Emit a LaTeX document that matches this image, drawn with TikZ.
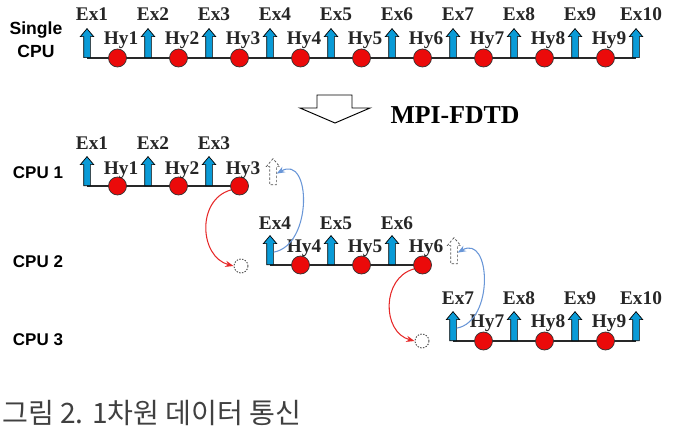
\documentclass[tikz,border=0pt]{standalone}
\usepackage{fontspec}
\setmainfont{Liberation Serif}
\setsansfont{Liberation Sans}
\newfontfamily\krfont{Noto Sans CJK KR}
\usepackage{tikz}
\usetikzlibrary{shapes.arrows, arrows.meta, positioning}
\definecolor{exblue}{RGB}{10,155,215}
\definecolor{hyred}{RGB}{235,10,10}
\definecolor{linkred}{RGB}{230,40,40}
\definecolor{linkblue}{RGB}{105,150,215}
\definecolor{mydark}{RGB}{40,40,40}
\tikzset{
  exarr/.style={single arrow, draw=black, fill=exblue, rotate=90,
    minimum height=0.87cm, inner xsep=0pt, inner ysep=0.09cm,
    single arrow head extend=0.1cm, single arrow tip angle=80,
    anchor=tail, line width=0.6pt},
  ghostarr/.style={exarr, draw=gray!60!black, fill=white, dashed,
    dash pattern=on 2pt off 1.5pt, minimum height=0.78cm},
  hydot/.style={circle, draw=black!80, fill=hyred, minimum size=0.54cm,
    inner sep=0pt, line width=0.6pt},
  ghostdot/.style={circle, draw=gray!60!black, fill=white,
    dash pattern=on 1.2pt off 1.2pt,
    minimum size=0.42cm, inner sep=0pt, line width=0.8pt},
  lbl/.style={font=\fontsize{16.5}{18}\selectfont\bfseries, inner sep=0pt, text=black!85},
  cpulbl/.style={font=\sffamily\bfseries\fontsize{14.5}{17}\selectfont, inner sep=0pt,
    align=center},
  axis/.style={line width=1.1pt, color=mydark},
  redlink/.style={-Stealth, line width=0.9pt, color=linkred},
  bluelink/.style={-Stealth, line width=0.9pt, color=linkblue}
}

\begin{document}
\begin{tikzpicture}[x=0.03cm, y=-0.03cm]
  \useasboundingbox (0,0) rectangle (683,429);

  % Single CPU
  \node[cpulbl, font=\sffamily\bfseries\fontsize{15}{20}\selectfont] (single) at (36,40) {Single\\CPU};
  \coordinate (s-l) at (87,58);
  \coordinate (s-r) at (636,58);
  \draw[axis] (s-l) -- (s-r);
  \foreach \i in {1,...,10} {
    \node[exarr] (s-e\i) at ({87+61*(\i-1)},58) {};
    \node[lbl] (s-el\i) at ({92+61*(\i-1)},14) {Ex\i};
  }
  \foreach \i in {1,...,9} {
    \node[hydot] (s-h\i) at ({117.5+61*(\i-1)},58) {};
    \node[lbl] (s-hl\i) at ({121+61*(\i-1)},40) {Hy\i};
  }

  % MPI-FDTD
  \draw[line width=0.8pt, fill=white] (317,95) -- (352,95) -- (352,108) -- (370,108)
    -- (335,123) -- (300,108) -- (317,108) -- cycle;
  \node[font=\fontsize{22}{24}\selectfont\bfseries, inner sep=0pt] (mpi) at (455,115) {MPI-FDTD};

  % CPU 1
  \node[cpulbl] (cpu1) at (38,173) {CPU 1};
  \coordinate (c1-l) at (87,186);
  \coordinate (c1-r) at (239,186);
  \draw[axis] (c1-l) -- (c1-r);
  \foreach \i in {1,2,3} {
    \node[exarr] (c1-e\i) at ({87+61*(\i-1)},186) {};
    \node[lbl] (c1-el\i) at ({92+61*(\i-1)},143) {Ex\i};
    \node[hydot] (c1-h\i) at ({117.5+61*(\i-1)},186) {};
    \node[lbl] (c1-hl\i) at ({121+61*(\i-1)},170) {Hy\i};
  }
  \node[ghostarr] (g1) at (273,185) {};

  % CPU 2
  \node[cpulbl] (cpu2) at (38,262) {CPU 2};
  \coordinate (c2-l) at (270,265);
  \coordinate (c2-r) at (420,265);
  \draw[axis] (c2-l) -- (c2-r);
  \foreach \i in {4,5,6} {
    \node[exarr] (c2-e\i) at ({87+61*(\i-1)},265) {};
    \node[lbl] (c2-el\i) at ({92+61*(\i-1)},223) {Ex\i};
    \node[hydot] (c2-h\i) at ({117.5+61*(\i-1)},265) {};
    \node[lbl] (c2-hl\i) at ({121+61*(\i-1)},248) {Hy\i};
  }
  \node[ghostdot] (d2) at (241,266) {};
  \node[ghostarr] (g2) at (454,264) {};

  % CPU 3
  \node[cpulbl] (cpu3) at (38,340) {CPU 3};
  \coordinate (c3-l) at (453,341);
  \coordinate (c3-r) at (636,341);
  \draw[axis] (c3-l) -- (c3-r);
  \foreach \i in {7,...,10} {
    \node[exarr] (c3-e\i) at ({87+61*(\i-1)},341) {};
    \node[lbl] (c3-el\i) at ({92+61*(\i-1)},298) {Ex\i};
  }
  \foreach \i in {7,8,9} {
    \node[hydot] (c3-h\i) at ({117.5+61*(\i-1)},341) {};
    \node[lbl] (c3-hl\i) at ({121+61*(\i-1)},323) {Hy\i};
  }
  \node[ghostdot] (d3) at (422,341) {};

  % exchange
  \draw[redlink] (c1-h3.205) to[out=195, in=165, looseness=1.2] (d2.west);
  \draw[bluelink] (c2-e4.south) to[out=10, in=30, looseness=1.3] (g1.south);
  \draw[redlink] (c2-h6.205) to[out=195, in=165, looseness=1.2] (d3.west);
  \draw[bluelink] (c3-e7.south) to[out=10, in=30, looseness=1.3] (g2.south);

  % caption
  \node[font=\krfont\fontsize{24}{26}\selectfont, text=black!75, anchor=base west, inner sep=0pt]
    (cap) at (2,423) {그림 2. 1차원 데이터 통신};
\end{tikzpicture}
\end{document}
